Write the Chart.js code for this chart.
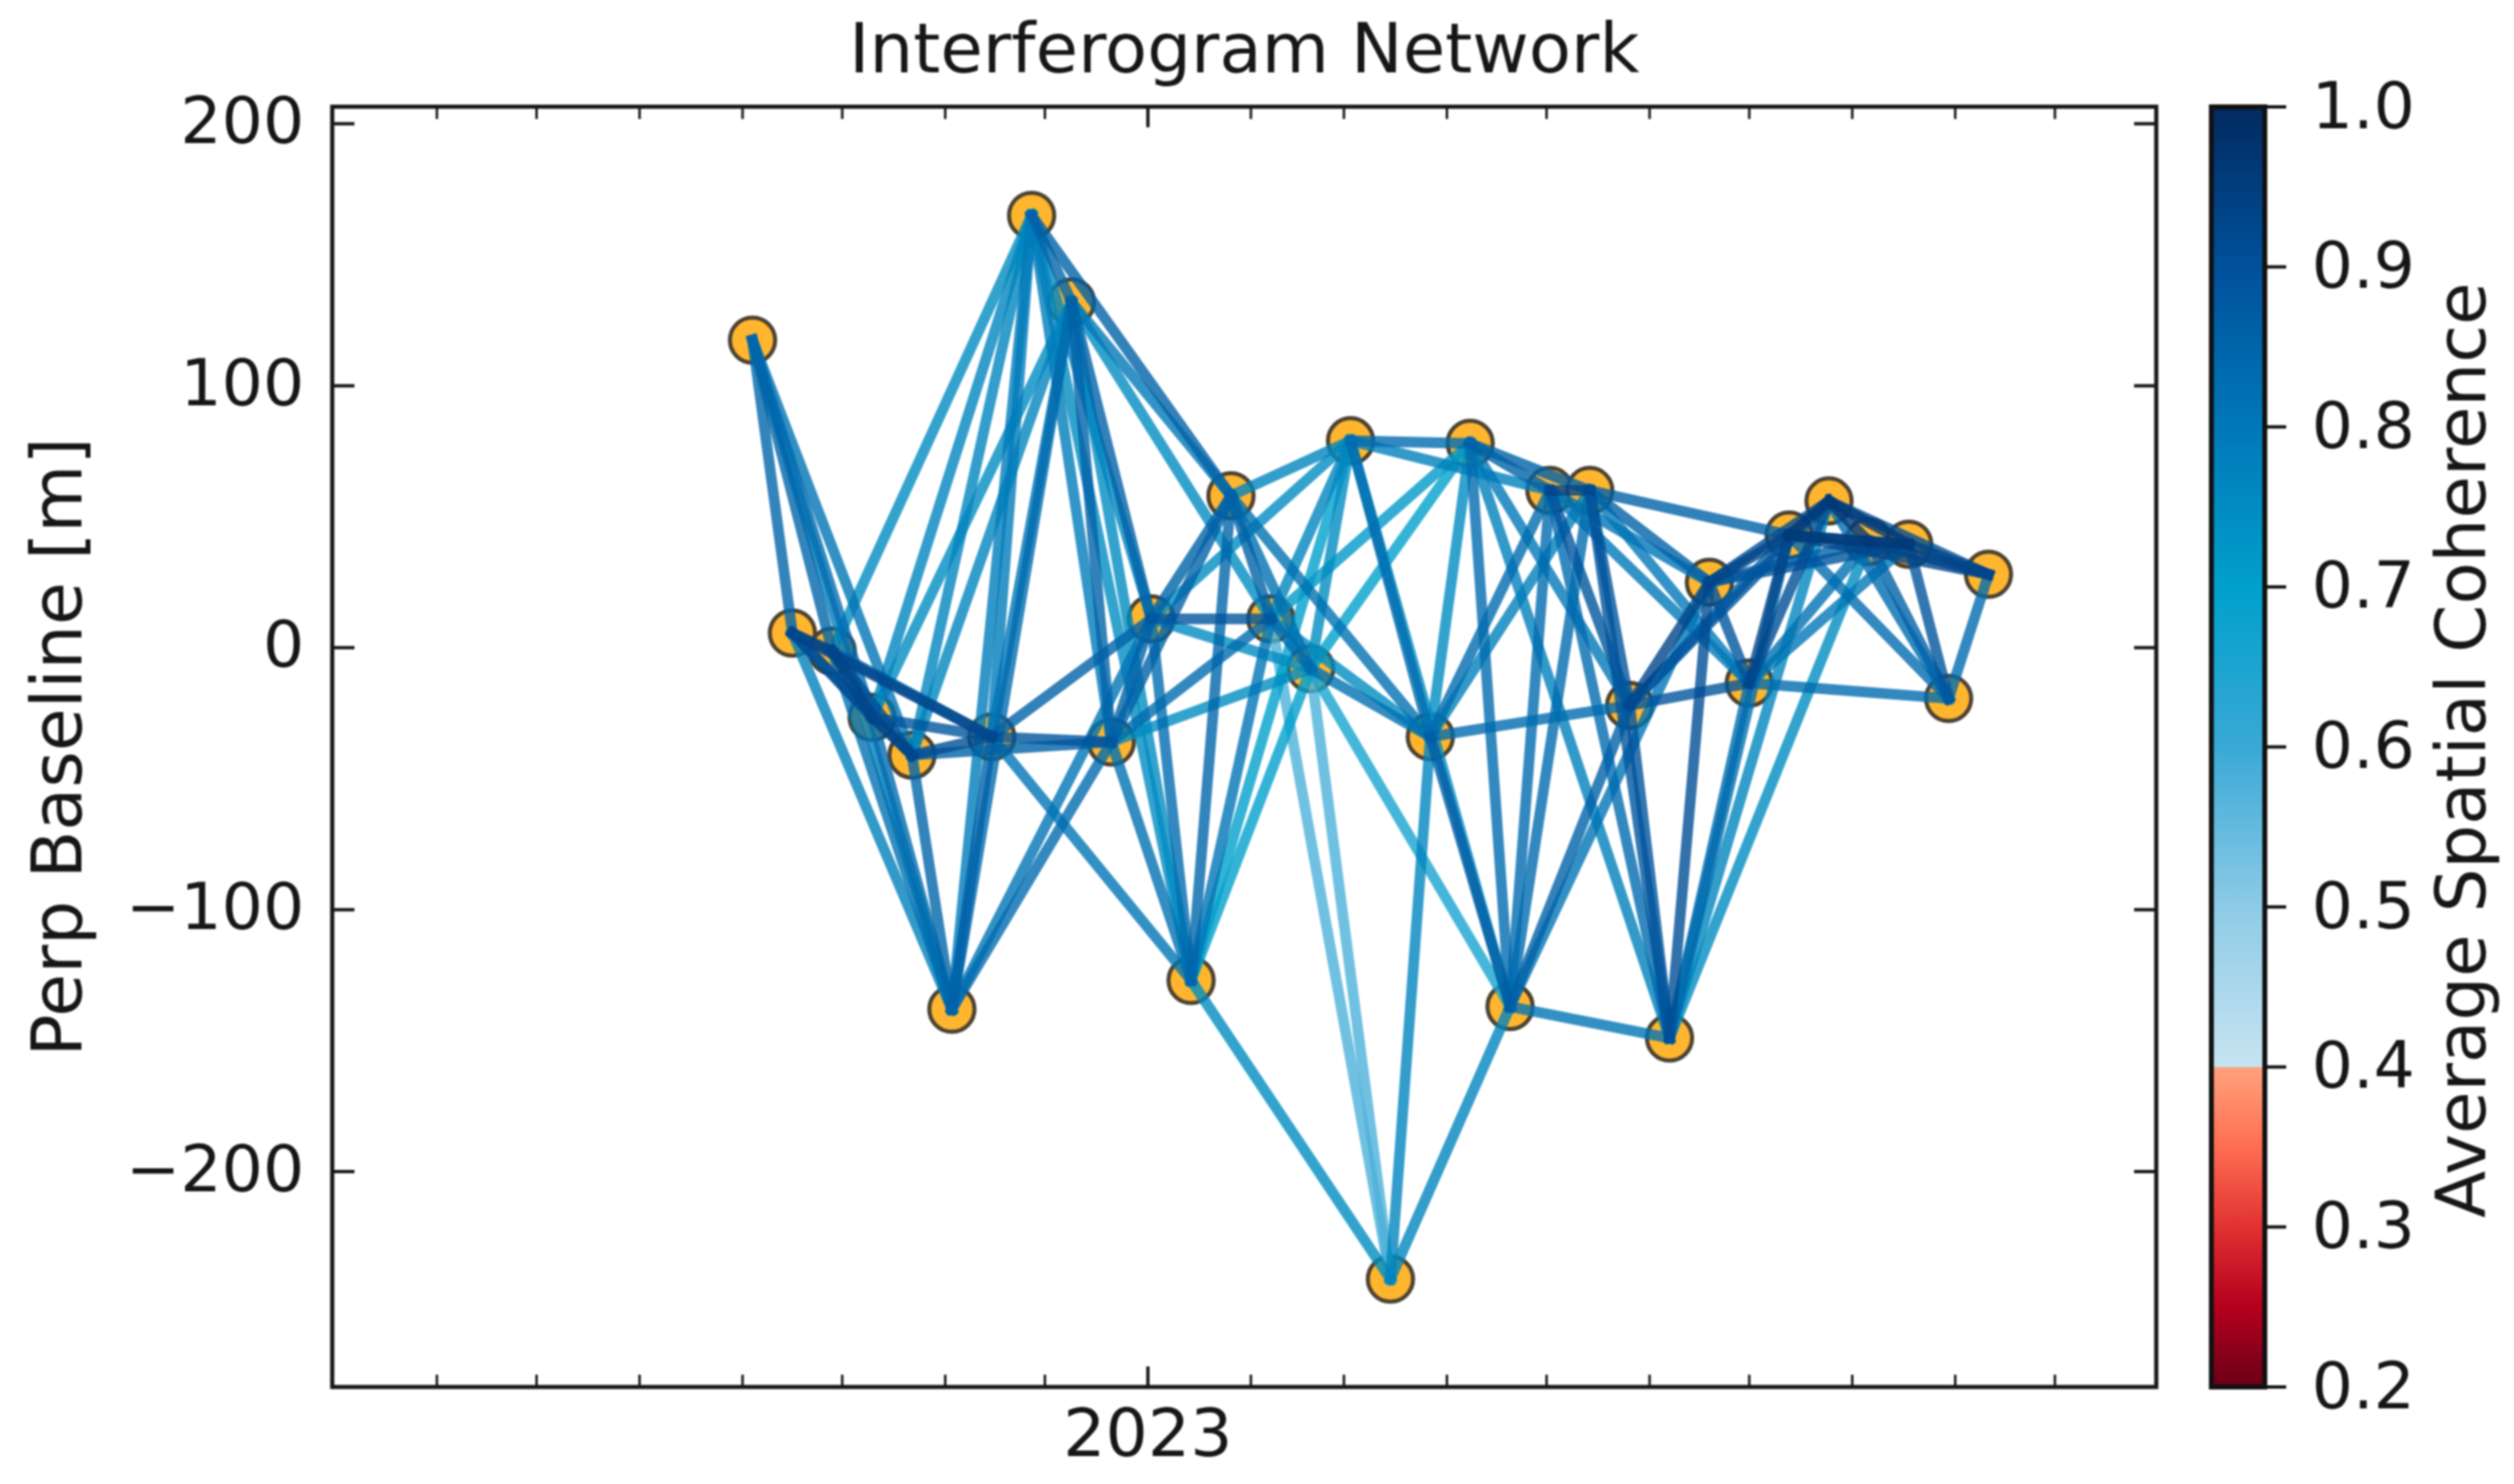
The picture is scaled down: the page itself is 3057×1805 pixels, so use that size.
<!DOCTYPE html>
<html>
<head>
<meta charset="utf-8">
<style>
html,body{margin:0;padding:0;background:#fff;width:3057px;height:1805px;overflow:hidden}
canvas{position:absolute;display:block;filter:blur(1.2px)}
#net{left:0;top:0}
#bar{left:2600px;top:0}
</style>
<script src="https://cdn.jsdelivr.net/npm/chart.js@4"></script>
</head>
<body>
<canvas id="net" width="3057" height="1805"></canvas>
<canvas id="bar" width="457" height="1805"></canvas>
<script>
// ---------- data ----------
const acquisitionDates = ['2022-09-04','2022-09-16','2022-09-28','2022-10-10','2022-10-22','2022-11-03','2022-11-15','2022-11-27',
  '2022-12-09','2022-12-21','2023-01-02','2023-01-14','2023-01-26','2023-02-07','2023-02-19','2023-03-03','2023-03-15','2023-03-27',
  '2023-04-08','2023-04-20','2023-05-02','2023-05-14','2023-05-26','2023-06-07','2023-06-19','2023-07-01','2023-07-13','2023-07-25',
  '2023-08-06','2023-08-18','2023-08-30','2023-09-11'];
const perpBaseline = [117.4,5.6,-1.3,-26.6,-41,-138,-34,165,132,-36,11,-127,58,11,-8,79,-241,-34,78,-137,60,60,-22,-149,25,-13.5,43,56,40.5,39.5,-19.4,28];

// coherence of the pair (i, i+k); array index is i, null means the pair is not in the network
const cohStep1 = [.85,.93,.93,.93,.85,.86,.79,.85,.86,.86,.83,.85,.86,.83,.75,null,.77,.75,.83,.83,.93,.89,.89,.91,.89,.93,.96,.96,.96,.89,.83];
const cohStep2 = [.85,.91,.91,.83,.91,.79,.81,.79,.86,.82,.86,.81,.82,.77,.58,.83,null,.87,.86,.83,.89,.89,.93,.83,.93,.91,.96,.96,.86,.93];
const cohStep3 = [.83,.89,.82,.89,.77,.83,.89,.77,.75,.86,.89,.70,.77,.58,.82,.83,.77,.83,.86,.86,.83,.86,.89,.82,.91,.82,.91,.83,.93];
const cohStep4 = [.81,.78,.86,.77,.77,.83,.86,.75,.80,.83,.75,.70,null,.75,.70,.75,null,.78,.80,.81,.81,.80,.86,.77,.86,.80,.83,.91];
const cohStep5 = [.79,.93,.75,.75,.86,.81,.81,.86,.75,.75,.75,.75,.82,.72,.66,.78,null,.83,.78,.81,.80,.86,.89,.75,.89,.83,.93];
const cohSteps = [cohStep1,cohStep2,cohStep3,cohStep4,cohStep5];

const yTicks = [-200,-100,0,100,200];
const monthTicks = ['2022-06-01','2022-07-01','2022-08-01','2022-09-01','2022-10-01','2022-11-01','2022-12-01','2023-01-01',
  '2023-02-01','2023-03-01','2023-04-01','2023-05-01','2023-06-01','2023-07-01','2023-08-01','2023-09-01','2023-10-01'];
const yearTicks = {'2023-01-01':'2023'};
const cbarTicks = [0.2,0.3,0.4,0.5,0.6,0.7,0.8,0.9,1.0];
const cmapValues = [0.2,0.25,0.3,0.35,0.4,0.4,0.5,0.6,0.7,0.8,0.9,1.0];
const cmapColors = ['#6a0018','#b4001e','#e03232','#ff6e52','#ffa27c','#c6e4f1','#8dcbe6','#3aa9d6','#00a0cc','#0078b8','#00519b','#022a60'];

// ---------- helpers ----------
const FONT = '"DejaVu Sans"';
const INK = '#161616';
const time = s => Date.parse(s + 'T00:00:00Z');
const toRgb = h => [1,3,5].map(i => parseInt(h.substr(i,2),16));
function cmap(v, a){
  let i = 0;
  while (i < cmapValues.length-2 && v > cmapValues[i+1]) i++;
  const span = cmapValues[i+1]-cmapValues[i];
  const t = span > 0 ? (v-cmapValues[i])/span : 1;
  const p = toRgb(cmapColors[i]), q = toRgb(cmapColors[i+1]);
  const c = p.map((x,j) => Math.round(x+(q[j]-x)*t));
  return `rgba(${c[0]},${c[1]},${c[2]},${a})`;
}

// ---------- network datasets ----------
const edges = [];
cohSteps.forEach((row,k) => row.forEach((coh,i) => {
  if (coh !== null) edges.push({from:i, to:i+k+1, coh});
}));
edges.sort((a,b) => a.coh-b.coh);
const edgeSets = edges.map((e,n) => ({
  type:'scatter', showLine:true, order:1000-n,
  data:[{x:time(acquisitionDates[e.from]),y:perpBaseline[e.from]},{x:time(acquisitionDates[e.to]),y:perpBaseline[e.to]}],
  borderColor:cmap(e.coh,0.8), borderWidth:13, borderCapStyle:'square', pointRadius:0
}));
const nodeSet = {
  type:'scatter', order:2000,
  data:acquisitionDates.map((d,i) => ({x:time(d),y:perpBaseline[i]})),
  pointRadius:27.5, pointBorderWidth:5, pointBackgroundColor:'#ffb62e', pointBorderColor:'#4d4233'
};

// frame and inward ticks of the network axes
const netFrame = {
  id:'netFrame',
  afterDatasetsDraw(chart){
    const {ctx,chartArea:a,scales:{x,y}} = chart;
    ctx.save();
    ctx.strokeStyle = INK;
    ctx.lineWidth = 4;
    yTicks.forEach(v => {
      const p = y.getPixelForValue(v);
      ctx.beginPath();ctx.moveTo(a.left,p);ctx.lineTo(a.left+27,p);ctx.moveTo(a.right,p);ctx.lineTo(a.right-27,p);ctx.stroke();
    });
    monthTicks.forEach(d => {
      const p = x.getPixelForValue(time(d));
      const major = d in yearTicks, len = major ? 25 : 15;
      ctx.lineWidth = major ? 4 : 3;
      ctx.beginPath();ctx.moveTo(p,a.bottom);ctx.lineTo(p,a.bottom-len);ctx.moveTo(p,a.top);ctx.lineTo(p,a.top+len);ctx.stroke();
    });
    ctx.lineWidth = 5;
    ctx.strokeRect(a.left,a.top,a.right-a.left,a.bottom-a.top);
    ctx.restore();
  }
};

new Chart(document.getElementById('net'),{
  data:{datasets:[...edgeSets,nodeSet]},
  plugins:[netFrame],
  options:{
    responsive:false, animation:false, devicePixelRatio:1,
    layout:{padding:{left:0,top:0,right:435,bottom:0}},
    plugins:{
      legend:{display:false}, tooltip:{enabled:false},
      title:{display:true,text:'Interferogram Network',fullSize:false,color:INK,
        font:{family:FONT,size:84,weight:'normal'},padding:{top:16,bottom:13}}
    },
    scales:{
      x:{type:'linear',min:time('2022-04-30')+12*3600e3,max:time('2023-10-31')+12*3600e3,
        grid:{display:false,drawTicks:false},border:{display:false},
        afterBuildTicks:s => {s.ticks = monthTicks.map(d => ({value:time(d),label:d}));},
        afterFit:s => {s.height = 118;},
        ticks:{autoSkip:false,maxRotation:0,padding:14,color:INK,font:{family:FONT,size:81},
          callback:(v) => yearTicks[new Date(v).toISOString().slice(0,10)] || ''}
      },
      y:{type:'linear',min:-282.2,max:206.5,
        grid:{display:false,drawTicks:false},border:{display:false},
        afterBuildTicks:s => {s.ticks = yTicks.map(v => ({value:v}));},
        afterFit:s => {s.width = 404;},
        ticks:{padding:34,labelOffset:3,color:INK,font:{family:FONT,size:79},callback:v => String(v).replace('-','\u2212')},
        title:{display:true,text:'Perp Baseline [m]',color:INK,font:{family:FONT,size:85,weight:'normal'},padding:{top:26,bottom:0}}
      }
    }
  }
});

// ---------- colour bar ----------
const barFrame = {
  id:'barFrame',
  afterDatasetsDraw(chart){
    const {ctx,chartArea:a,scales:{y}} = chart;
    ctx.save();
    ctx.strokeStyle = '#111';
    ctx.lineWidth = 4;
    cbarTicks.forEach(v => {
      const p = y.getPixelForValue(v);
      ctx.beginPath();ctx.moveTo(a.right,p);ctx.lineTo(a.right+26,p);ctx.stroke();
    });
    ctx.lineWidth = 6;
    ctx.strokeRect(a.left,a.top,a.right-a.left,a.bottom-a.top);
    ctx.translate(400,(a.top+a.bottom)/2+4);
    ctx.rotate(-Math.PI/2);
    ctx.fillStyle = INK;
    ctx.font = '84px '+FONT;
    ctx.textAlign = 'center';
    ctx.textBaseline = 'middle';
    ctx.fillText('Average Spatial Coherence',0,0);
    ctx.restore();
  }
};
new Chart(document.getElementById('bar'),{
  type:'bar',
  data:{labels:['coherence'],datasets:[{
    data:[[cbarTicks[0],cbarTicks[cbarTicks.length-1]]],
    barPercentage:1,categoryPercentage:1,
    backgroundColor:c => {
      const a = c.chart.chartArea;
      if (!a) return '#0078b8';
      const g = c.chart.ctx.createLinearGradient(0,a.bottom,0,a.top);
      cmapValues.forEach((v,i) => g.addColorStop((v-0.2)/0.8,cmapColors[i]));
      return g;
    }
  }]},
  plugins:[barFrame],
  options:{
    responsive:false, animation:false, devicePixelRatio:1,
    layout:{padding:{left:89,top:130,right:0,bottom:118}},
    plugins:{legend:{display:false},tooltip:{enabled:false},title:{display:false}},
    scales:{
      x:{display:false},
      y:{position:'right',min:0.2,max:1.0,
        grid:{display:false,drawTicks:false},border:{display:false},
        afterBuildTicks:s => {s.ticks = cbarTicks.map(v => ({value:v}));},
        afterFit:s => {s.width = 303;},
        ticks:{padding:57,labelOffset:5,color:INK,font:{family:FONT,size:79},callback:v => Number(v).toFixed(1)}
      }
    }
  }
});
</script>
</body>
</html>
